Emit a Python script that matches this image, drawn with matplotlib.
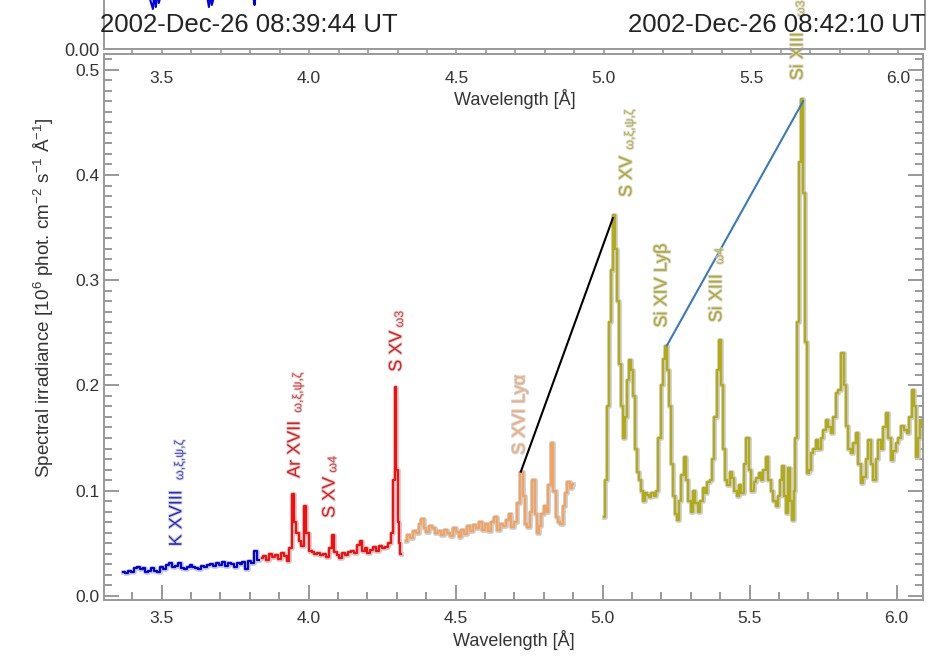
#Spectrum of the flare: spectral irradiance vs wavelength, four channels
import matplotlib
matplotlib.use('Agg')
import matplotlib.pyplot as plt
import matplotlib.patheffects as pe
from matplotlib.ticker import MultipleLocator

plt.rcParams['font.family'] = ['Liberation Sans', 'DejaVu Sans']
plt.rcParams['mathtext.fontset'] = 'custom'
plt.rcParams['mathtext.rm'] = 'Liberation Sans'

#channel 1 (blue)
blue_x = [3.370, 3.380, 3.390, 3.400, 3.410, 3.420, 3.430, 3.440, 3.450, 3.460,
          3.470, 3.480, 3.490, 3.500, 3.510, 3.520, 3.530, 3.540, 3.550, 3.560,
          3.570, 3.580, 3.590, 3.600, 3.610, 3.620, 3.630, 3.640, 3.650, 3.660,
          3.670, 3.680, 3.690, 3.700, 3.710, 3.720, 3.730, 3.740, 3.750, 3.760,
          3.770, 3.780, 3.790, 3.800, 3.810, 3.820, 3.830]
blue_y = [0.023, 0.022, 0.024, 0.023, 0.026, 0.027, 0.025, 0.026, 0.023, 0.024,
          0.026, 0.024, 0.023, 0.027, 0.025, 0.029, 0.031, 0.027, 0.028, 0.031,
          0.026, 0.025, 0.027, 0.029, 0.027, 0.026, 0.025, 0.028, 0.027, 0.029,
          0.030, 0.028, 0.031, 0.029, 0.032, 0.028, 0.031, 0.030, 0.027, 0.031,
          0.030, 0.032, 0.025, 0.033, 0.031, 0.043, 0.034]
#channel 2 (red)
red_x = [3.840, 3.850, 3.860, 3.870, 3.880, 3.890, 3.900, 3.910, 3.920, 3.930,
         3.940, 3.947, 3.955, 3.962, 3.970, 3.978, 3.988, 3.996, 4.005, 4.015,
         4.025, 4.035, 4.045, 4.055, 4.065, 4.075, 4.082, 4.090, 4.100, 4.110,
         4.120, 4.130, 4.140, 4.150, 4.160, 4.170, 4.178, 4.186, 4.195, 4.205,
         4.215, 4.225, 4.235, 4.245, 4.255, 4.265, 4.275, 4.283, 4.290, 4.295,
         4.300, 4.305, 4.310, 4.315]
red_y = [0.036, 0.038, 0.034, 0.040, 0.037, 0.039, 0.035, 0.041, 0.038, 0.033,
         0.045, 0.097, 0.070, 0.060, 0.052, 0.047, 0.085, 0.060, 0.043, 0.042,
         0.040, 0.041, 0.039, 0.040, 0.037, 0.045, 0.058, 0.042, 0.039, 0.036,
         0.041, 0.039, 0.042, 0.043, 0.041, 0.048, 0.052, 0.043, 0.045, 0.041,
         0.044, 0.046, 0.043, 0.047, 0.045, 0.046, 0.050, 0.060, 0.110, 0.198,
         0.120, 0.070, 0.050, 0.040]
#channel 3 (orange)
orange_x = [4.330, 4.340, 4.350, 4.360, 4.370, 4.380, 4.387, 4.395, 4.405, 4.415,
            4.425, 4.435, 4.445, 4.455, 4.465, 4.475, 4.485, 4.495, 4.505, 4.515,
            4.525, 4.535, 4.545, 4.555, 4.565, 4.575, 4.585, 4.595, 4.605, 4.615,
            4.625, 4.635, 4.645, 4.655, 4.665, 4.675, 4.685, 4.695, 4.705, 4.715,
            4.724, 4.732, 4.740, 4.748, 4.756, 4.765, 4.772, 4.780, 4.788, 4.796,
            4.804, 4.812, 4.820, 4.828, 4.836, 4.844, 4.852, 4.860, 4.868, 4.876,
            4.884, 4.892, 4.900]
orange_y = [0.052, 0.058, 0.055, 0.062, 0.060, 0.068, 0.073, 0.064, 0.061, 0.066,
            0.064, 0.060, 0.062, 0.058, 0.063, 0.060, 0.057, 0.064, 0.061, 0.056,
            0.063, 0.059, 0.066, 0.062, 0.067, 0.064, 0.070, 0.063, 0.068, 0.062,
            0.070, 0.075, 0.063, 0.068, 0.066, 0.072, 0.078, 0.065, 0.070, 0.088,
            0.118, 0.095, 0.068, 0.065, 0.080, 0.110, 0.078, 0.060, 0.066, 0.078,
            0.085, 0.080, 0.105, 0.145, 0.100, 0.075, 0.070, 0.068, 0.085, 0.098,
            0.108, 0.102, 0.106]
#channel 4 (olive)
olive_x = [5.005, 5.012, 5.020, 5.027, 5.033, 5.039, 5.046, 5.052, 5.059, 5.066,
           5.073, 5.080, 5.087, 5.093, 5.100, 5.107, 5.113, 5.120, 5.127, 5.134,
           5.141, 5.148, 5.155, 5.162, 5.170, 5.178, 5.186, 5.194, 5.202, 5.209,
           5.215, 5.222, 5.229, 5.236, 5.243, 5.250, 5.257, 5.264, 5.272, 5.280,
           5.288, 5.296, 5.304, 5.312, 5.320, 5.328, 5.336, 5.344, 5.352, 5.360,
           5.368, 5.376, 5.384, 5.392, 5.399, 5.405, 5.412, 5.420, 5.428, 5.436,
           5.444, 5.452, 5.460, 5.468, 5.476, 5.485, 5.494, 5.502, 5.510, 5.518,
           5.526, 5.535, 5.543, 5.551, 5.559, 5.567, 5.576, 5.585, 5.593, 5.601,
           5.609, 5.615, 5.621, 5.627, 5.634, 5.641, 5.647, 5.653, 5.659, 5.665,
           5.671, 5.678, 5.685, 5.692, 5.698, 5.705, 5.712, 5.720, 5.729, 5.737,
           5.746, 5.754, 5.763, 5.771, 5.780, 5.788, 5.797, 5.807, 5.817, 5.824,
           5.831, 5.840, 5.848, 5.856, 5.865, 5.873, 5.882, 5.892, 5.900, 5.909,
           5.917, 5.926, 5.934, 5.943, 5.951, 5.959, 5.967, 5.975, 5.984, 5.992,
           6.001, 6.010, 6.022, 6.030, 6.039, 6.048, 6.056, 6.063, 6.069, 6.075,
           6.082, 6.090, 6.100]
olive_y = [0.075, 0.110, 0.180, 0.260, 0.310, 0.362, 0.330, 0.280, 0.220, 0.180,
           0.150, 0.170, 0.205, 0.224, 0.215, 0.190, 0.140, 0.118, 0.110, 0.100,
           0.090, 0.098, 0.096, 0.094, 0.098, 0.095, 0.100, 0.150, 0.200, 0.225,
           0.237, 0.215, 0.180, 0.125, 0.095, 0.078, 0.072, 0.090, 0.115, 0.132,
           0.110, 0.090, 0.080, 0.100, 0.088, 0.080, 0.090, 0.102, 0.098, 0.108,
           0.110, 0.130, 0.170, 0.215, 0.243, 0.200, 0.140, 0.110, 0.105, 0.118,
           0.112, 0.100, 0.095, 0.105, 0.098, 0.125, 0.150, 0.120, 0.100, 0.108,
           0.112, 0.117, 0.110, 0.120, 0.132, 0.110, 0.100, 0.090, 0.085, 0.095,
           0.110, 0.123, 0.095, 0.079, 0.121, 0.090, 0.072, 0.100, 0.150, 0.260,
           0.412, 0.472, 0.383, 0.241, 0.117, 0.120, 0.136, 0.140, 0.148, 0.140,
           0.150, 0.158, 0.167, 0.160, 0.155, 0.170, 0.193, 0.196, 0.231, 0.200,
           0.161, 0.140, 0.136, 0.145, 0.155, 0.125, 0.107, 0.113, 0.130, 0.148,
           0.125, 0.110, 0.130, 0.148, 0.140, 0.160, 0.174, 0.150, 0.129, 0.138,
           0.145, 0.150, 0.161, 0.158, 0.155, 0.170, 0.196, 0.180, 0.132, 0.150,
           0.167, 0.160, 0.165]
#bit of the light curve panel above (only its bottom edge is in view)
upper_x = [3.40, 3.44, 3.47, 3.475, 3.48, 3.485, 3.49, 3.52, 3.60, 3.65,
           3.66, 3.665, 3.67, 3.70, 3.80, 3.815, 3.82, 3.83, 3.90]
upper_y = [0.40, 0.35, 0.20, 0.28, 0.21, 0.30, 0.23, 0.40, 0.38, 0.30,
           0.21, 0.27, 0.22, 0.40, 0.35, 0.22, 0.30, 0.45, 0.50]

#line labels: ion, x, y of bottom, transition (small), y of its bottom, colour
label_text = ['K XVIII', 'Ar XVII', 'S XV', 'S XV', 'S XVI Ly\u03b1',
              'S XV', 'Si XIV Ly\u03b2', 'Si XIII', 'Si XIII']
label_x = [3.552, 3.954, 4.073, 4.300, 4.719, 5.083, 5.202, 5.389, 5.665]
label_y = [0.047, 0.112, 0.074, 0.213, 0.134, 0.379, 0.255, 0.260, 0.490]
label_greek = ['\u03c9,\u03be,\u03c8,\u03b6', '\u03c9,\u03be,\u03c8,\u03b6', '\u03c94', '\u03c93', '',
               '\u03c9,\u03be,\u03c8,\u03b6', '', '\u03c94', '\u03c93']
label_gy = [0.110, 0.174, 0.117, 0.255, 0, 0.424, 0, 0.315, 0.550]
label_col = ['#2a2ad0', '#e51a1a', '#e51a1a', '#e51a1a', '#f2ad7a',
             '#b2aa22', '#b2aa22', '#b2aa22', '#b2aa22']

#lines joining line peaks
black_x = [4.722, 5.035]
black_y = [0.118, 0.359]
steel_x = [5.219, 5.682]
steel_y = [0.238, 0.470]

dates = ['2002-Dec-26 08:39:44 UT', '2002-Dec-26 08:42:10 UT']

grey = '#999999'
halo = [pe.withStroke(linewidth=3.4, foreground='#cccccc')]
thalo = [pe.withStroke(linewidth=1.4, foreground='#d4d4d4')]

fig = plt.figure(figsize=(9.4, 6.56), dpi=100)
ax = fig.add_axes([104/940, 56/656, 819/940, 546/656])
top = fig.add_axes([104/940, 607/656, 821/940, 200/656])

#main spectrum
for xs, ys, c in [(blue_x, blue_y, '#0000e6'), (red_x, red_y, '#ff0a0a'),
                  (orange_x, orange_y, '#f5a25e'), (olive_x, olive_y, '#b3ab14')]:
    ax.plot(xs, ys, drawstyle='steps-mid', color=c, lw=1.6, path_effects=halo)
ax.plot(black_x, black_y, color='black', lw=1.5)
ax.plot(steel_x, steel_y, color='#3a78c0', lw=1.5)

for i in range(len(label_text)):
    ax.text(label_x[i], label_y[i], label_text[i], rotation=90, ha='center', va='bottom',
            fontsize=13, color=label_col[i], path_effects=thalo)
    if label_greek[i] != '':
        ax.text(label_x[i] + 0.011, label_gy[i], label_greek[i], rotation=90, ha='center',
                va='bottom', fontsize=9, color=label_col[i], alpha=0.75, path_effects=thalo)

ax.set_xlim(3.304, 6.09)
ax.set_ylim(-0.004, 0.515)
ax.xaxis.set_major_locator(MultipleLocator(0.5))
ax.xaxis.set_minor_locator(MultipleLocator(0.1))
ax.yaxis.set_major_locator(MultipleLocator(0.1))
ax.yaxis.set_minor_locator(MultipleLocator(0.01))
ax.xaxis.set_major_formatter(plt.FormatStrFormatter('%.1f'))
ax.yaxis.set_major_formatter(plt.FormatStrFormatter('%.1f'))
ax.tick_params(which='both', direction='in', color=grey, width=1.4,
               left=True, right=True, bottom=True, top=False, labelsize=12.5, labelcolor='#333333')
ax.tick_params(which='major', length=11)
ax.tick_params(which='minor', length=5.5)
ax.tick_params(axis='x', pad=8)
for s in ax.spines.values():
    s.set_color(grey)
    s.set_linewidth(1.4)
ax.set_xlabel('Wavelength [\u00c5]', fontsize=13, color='#333333', labelpad=3)
ax.set_ylabel('Spectral irradiance [10$^6$ phot. cm$^{-2}$ s$^{-1}$ \u00c5$^{-1}$]',
              fontsize=13.6, color='#333333')
ax.yaxis.set_label_coords(-0.058, 0.553)

#the panel above
top.plot(upper_x, upper_y, color='#0000e6', lw=1.5)
top.set_xlim(3.304, 6.09)
top.set_ylim(0, 1)
top.xaxis.set_major_locator(MultipleLocator(0.5))
top.xaxis.set_minor_locator(MultipleLocator(0.1))
top.xaxis.set_major_formatter(plt.FormatStrFormatter('%.1f'))
top.set_yticks([0])
top.set_yticklabels(['0.00'])
top.tick_params(axis='y', length=0, labelsize=13, pad=3, labelcolor='#333333')
top.tick_params(axis='x', which='both', direction='out', color=grey, width=1.2,
                labelsize=12.5, labelcolor='#333333')
top.tick_params(axis='x', which='major', length=4, pad=12)
top.tick_params(axis='x', which='minor', length=3.5)
for s in top.spines.values():
    s.set_color(grey)
    s.set_linewidth(1.4)
top.set_xlabel('Wavelength [\u00c5]', fontsize=13, color='#333333', labelpad=2)
top.patch.set_alpha(0)

fig.text(100/940, 1 - 25/656, dates[0], fontsize=18.5, color='#222222', ha='left', va='center')
fig.text(926/940, 1 - 25/656, dates[1], fontsize=18.5, color='#222222', ha='right', va='center')

fig.savefig('out.png', dpi=100)
